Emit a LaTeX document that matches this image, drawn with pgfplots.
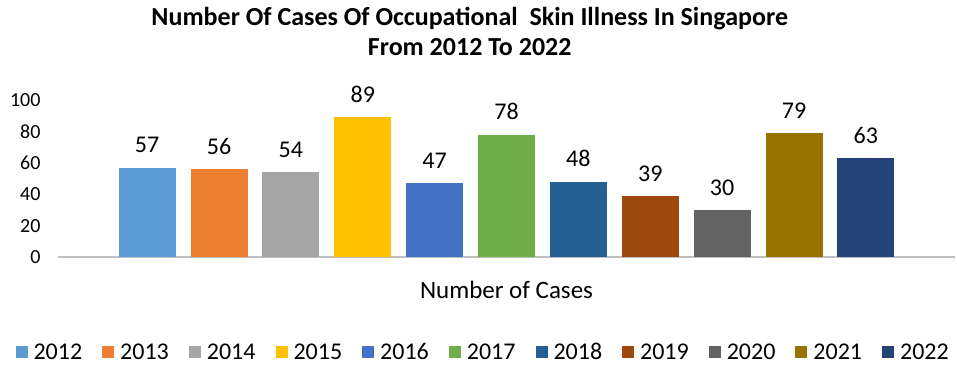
\documentclass[border=0pt]{standalone}
\usepackage{fontspec}
\setmainfont{Carlito}
\usepackage{pgfplots}
\pgfplotsset{compat=1.18}
\definecolor{c12}{HTML}{5B9BD5}
\definecolor{c13}{HTML}{ED7D31}
\definecolor{c14}{HTML}{A5A5A5}
\definecolor{c15}{HTML}{FFC000}
\definecolor{c16}{HTML}{4472C4}
\definecolor{c17}{HTML}{70AD47}
\definecolor{c18}{HTML}{255E91}
\definecolor{c19}{HTML}{9E480E}
\definecolor{c20}{HTML}{636363}
\definecolor{c21}{HTML}{997300}
\definecolor{c22}{HTML}{264478}
\begin{document}
\begin{tikzpicture}
\path[use as bounding box] (0,0) rectangle (957pt,366pt);
\begin{axis}[
  at={(58pt,109pt)}, anchor=south west,
  scale only axis, width=897pt, height=157pt,
  xmin=-1.24, xmax=11.24, ymin=0, ymax=100,
  ybar, bar width=57pt, bar shift=0pt,
  axis line style={draw=none},
  major tick length=0pt,
  xtick=\empty,
  ytick={20,40,60,80,100},
  extra y ticks={0}, extra y tick labels={0},
  extra y tick style={grid=major, grid style={color=black!25, line width=1.2pt}},
  /pgf/number format/assume math mode=true,
  tick label style={font=\fontsize{20}{24}\selectfont},
  yticklabel style={xshift=-14pt},
  clip=false,
  nodes near coords,
  every node near coord/.append style={font=\fontsize{24}{28}\selectfont, yshift=11pt, color=black},
  xlabel={Number of Cases},
  xlabel style={at={(axis description cs:0.5,-0.21)}, anchor=center, font=\fontsize{25}{30}\selectfont},
  title={Number Of Cases Of Occupational\ \ Skin Illness In Singapore\\From 2012 To 2022},
  title style={at={(axis description cs:0.459,1.40)}, anchor=center, align=center, font=\fontsize{26}{30}\selectfont\bfseries},
  legend columns=11,
  legend style={at={(axis description cs:0.474,-0.605)}, anchor=center, draw=none,
    font=\fontsize{24}{28}\selectfont,
    /tikz/every odd column/.append style={column sep=4pt},
    /tikz/every even column/.append style={column sep=18pt}},
  legend image code/.code={\fill[#1, draw=none] (0pt,-6pt) rectangle (12pt,6pt);},
]
\addplot[fill=c12, draw=none] coordinates {(0,57)};
\addplot[fill=c13, draw=none] coordinates {(1,56)};
\addplot[fill=c14, draw=none] coordinates {(2,54)};
\addplot[fill=c15, draw=none] coordinates {(3,89)};
\addplot[fill=c16, draw=none] coordinates {(4,47)};
\addplot[fill=c17, draw=none] coordinates {(5,78)};
\addplot[fill=c18, draw=none] coordinates {(6,48)};
\addplot[fill=c19, draw=none] coordinates {(7,39)};
\addplot[fill=c20, draw=none] coordinates {(8,30)};
\addplot[fill=c21, draw=none] coordinates {(9,79)};
\addplot[fill=c22, draw=none] coordinates {(10,63)};
\legend{2012,2013,2014,2015,2016,2017,2018,2019,2020,2021,2022}
\end{axis}
\end{tikzpicture}
\end{document}
